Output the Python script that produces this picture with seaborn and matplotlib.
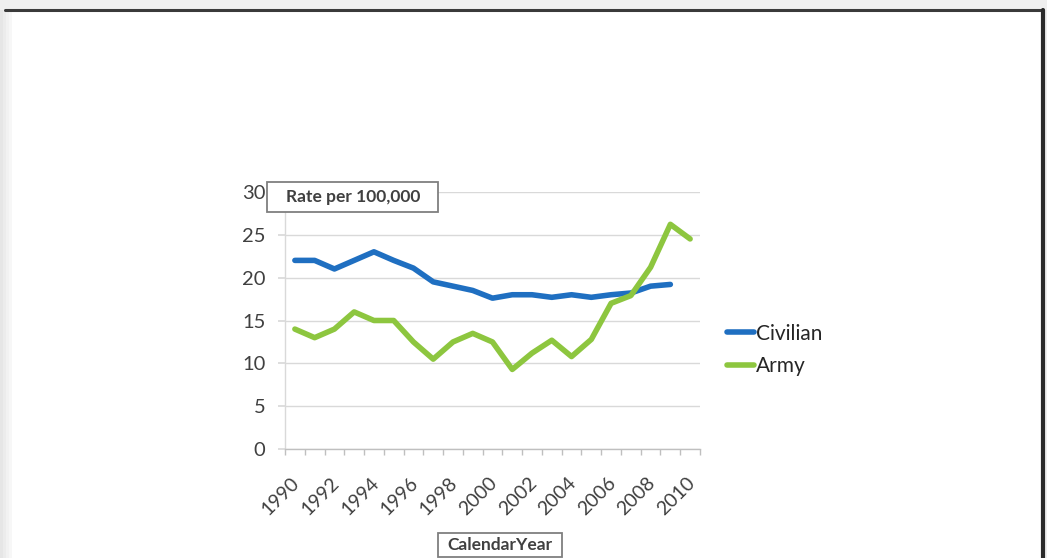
import matplotlib
matplotlib.use("Agg")
import matplotlib.pyplot as plt
import matplotlib.transforms as mtransforms
from matplotlib.patches import Rectangle
import numpy as np
import pandas as pd
import seaborn as sns

# ---- data ----
years = list(range(1990, 2011))
civilian = [22.0, 22.0, 21.0, 22.0, 23.0, 22.0, 21.1, 19.5, 19.0, 18.5, 17.6,
            18.0, 18.0, 17.7, 18.0, 17.7, 18.0, 18.2, 19.0, 19.2, np.nan]
army = [14.0, 13.0, 14.0, 16.0, 15.0, 15.0, 12.5, 10.5, 12.5, 13.5, 12.5,
        9.3, 11.2, 12.7, 10.8, 12.8, 17.0, 17.9, 21.2, 26.2, 24.5]
series_names = ["Civilian", "Army"]
yticks = [0, 5, 10, 15, 20, 25, 30]
xlabels = [str(y) for y in range(1990, 2011, 2)]
y_title = "Rate per 100,000"
x_title = "CalendarYear"

df = pd.DataFrame({"Year": years * 2,
                   "Rate": civilian + army,
                   "Series": [series_names[0]] * len(years) + [series_names[1]] * len(years)})

sns.set_theme(style="white")
plt.rcParams['font.family'] = ['Lato', 'DejaVu Sans']

W, H = 1047, 558
fig = plt.figure(figsize=(W / 100, H / 100), dpi=100, facecolor="#efefef")


def fx(x):
    return x / W


def fy(y):
    return (H - y) / H


# white page with dark top/right edges and a soft left shadow
for i, c in enumerate(["#e6e6e6", "#ececec", "#f2f2f2", "#f7f7f7"]):
    fig.patches.append(Rectangle((fx(i * 3), 0), 3 / W, fy(10), transform=fig.transFigure,
                                 facecolor=c, edgecolor="none", zorder=-10))
fig.patches.append(Rectangle((fx(12), 0), fx(1042 - 12), fy(10), transform=fig.transFigure,
                             facecolor="white", edgecolor="none", zorder=-10))
fig.lines.append(plt.Line2D([fx(5), fx(1043)], [fy(9.5), fy(9.5)], transform=fig.transFigure,
                            color="#3a3a3a", lw=2.2, zorder=-5))
fig.lines.append(plt.Line2D([fx(1043), fx(1043)], [0, fy(9.5)], transform=fig.transFigure,
                            color="#2a2a2a", lw=3, zorder=-5))

ax = fig.add_axes([fx(285), fy(449.3), (700 - 285) / W, (449.3 - 191.7) / H])
ax.set_facecolor("none")
ax.set_zorder(1)

palette = {"Civilian": "#1f6fc1", "Army": "#8dc63f"}
sns.lineplot(data=df, x="Year", y="Rate", hue="Series", palette=palette, ax=ax,
             linewidth=4, legend=False)

ax.set_xlim(1989.5, 2010.5)
ax.set_ylim(0, 30)
ax.set_yticks(yticks)
ax.set_yticklabels([str(v) for v in yticks])
ax.set_xticks(list(range(1990, 2011, 2)))
ax.set_xticklabels(xlabels)
ax.set_xticks(np.arange(1989.5, 2011.0, 1.0), minor=True)
ax.set_xlabel("")
ax.set_ylabel("")

ax.grid(axis="y", color="#d9d9d9", lw=1)
ax.set_axisbelow(True)
for s in ["top", "right"]:
    ax.spines[s].set_visible(False)
ax.spines["left"].set_color("#d9d9d9")
ax.spines["bottom"].set_color("#bfbfbf")
ax.spines["left"].set_linewidth(1)
ax.spines["bottom"].set_linewidth(1)

ax.tick_params(axis="y", which="major", left=True, length=5, color="#d9d9d9",
               labelsize=14.5, labelcolor="#404040", pad=9)
ax.tick_params(axis="x", which="major", bottom=False, length=0, labelsize=14,
               labelcolor="#404040", pad=18)
ax.tick_params(axis="x", which="minor", bottom=True, length=4, color="#bfbfbf", width=1)

offset = mtransforms.ScaledTranslation(8 / 100, 0, fig.dpi_scale_trans)
for lab in ax.get_xticklabels():
    lab.set_rotation(45)
    lab.set_ha("right")
    lab.set_va("top")
    lab.set_transform(lab.get_transform() + offset)

# boxed titles
fig.patches.append(Rectangle((fx(267), fy(212)), (438 - 267) / W, 30 / H, transform=fig.transFigure,
                             facecolor="white", edgecolor="#7f7f7f", lw=1.3, zorder=5))
fig.text(fx(353), fy(197), y_title, ha="center", va="center", fontsize=12.5,
         fontweight="bold", color="#404040", zorder=6)
fig.patches.append(Rectangle((fx(438), fy(557)), (562 - 438) / W, 24 / H, transform=fig.transFigure,
                             facecolor="white", edgecolor="#7f7f7f", lw=1.3, zorder=5))
fig.text(fx(500), fy(545.5), x_title, ha="center", va="center", fontsize=12.5,
         fontweight="bold", color="#404040", zorder=6)

# legend
handles = [plt.Line2D([], [], color=palette[n], lw=4) for n in series_names]
fig.legend(handles, series_names, loc="center left", bbox_to_anchor=(fx(708), fy(350)),
           frameon=False, fontsize=15, handlelength=1.3, handletextpad=0.1,
           labelspacing=0.62, labelcolor="#262626")

fig.savefig("out.png", dpi=100, facecolor=fig.get_facecolor())
